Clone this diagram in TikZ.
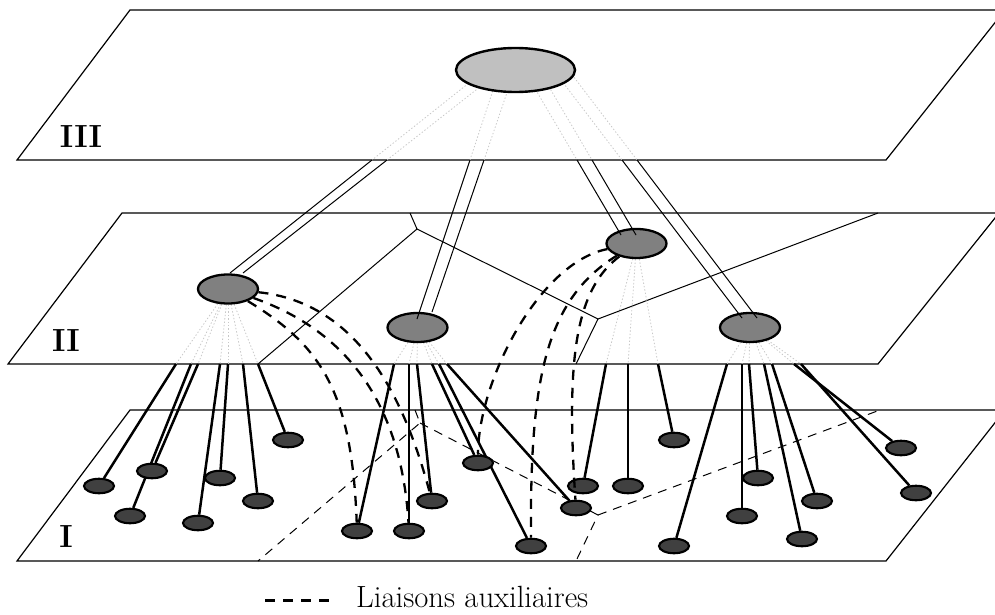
\documentclass[tikz,border=0pt]{standalone}
\usepackage{fontspec}
\usetikzlibrary{shapes.geometric,backgrounds}
\definecolor{topfill}{HTML}{C0C0C0}
\definecolor{midfill}{HTML}{808080}
\definecolor{lowfill}{HTML}{404040}
\definecolor{hid}{HTML}{C8C8C8}
\begin{document}
\begin{tikzpicture}[x=1pt,y=-1pt,
  plane/.style={line width=1.2pt, line join=miter},
  part/.style={line width=1pt},
  partI/.style={line width=1pt, dash pattern=on 9pt off 7pt},
  topn/.style={ellipse, draw, line width=2.4pt, fill=topfill, minimum width=119pt, minimum height=44pt, inner sep=0pt},
  midn/.style={ellipse, draw, line width=2.3pt, fill=midfill, minimum width=60pt, minimum height=29pt, inner sep=0pt},
  lown/.style={ellipse, draw, line width=2.1pt, fill=lowfill, minimum width=30pt, minimum height=14.5pt, inner sep=0pt},
  hidden/.style={hid, line width=0.8pt, dash pattern=on 1.4pt off 2pt},
  link/.style={line width=2.5pt},
  twin/.style={line width=1pt},
  aux/.style={line width=2.3pt, dash pattern=on 10pt off 8pt},
  lab/.style={font=\fontsize{32}{36}\selectfont\bfseries, inner sep=0pt},
]
\useasboundingbox (0,0) rectangle (995,615);
\clip (0,0) rectangle (995,615);

% ---- nodes ----
\node[topn] (T) at (515.5,70) {};
\node[midn] (A) at (228,289) {};
\node[midn] (B) at (417.5,327.5) {};
\node[midn] (C) at (636.5,243.5) {};
\node[midn] (D) at (750,327.5) {};

\node[lown] (n1) at (99,486) {};
\node[lown] (n2) at (152,471) {};
\node[lown] (n3) at (130,516) {};
\node[lown] (n4) at (220,478) {};
\node[lown] (n5) at (198,523) {};
\node[lown] (n6) at (258,501) {};
\node[lown] (n7) at (288,440) {};
\node[lown] (n8) at (357,531) {};
\node[lown] (n9) at (409,531) {};
\node[lown] (n10) at (432,501) {};
\node[lown] (n11) at (478,463) {};
\node[lown] (n12) at (531,546) {};
\node[lown] (n13) at (576,508) {};
\node[lown] (n14) at (583,486) {};
\node[lown] (n15) at (628,486) {};
\node[lown] (n16) at (674,440) {};
\node[lown] (n17) at (674,546) {};
\node[lown] (n18) at (742,516) {};
\node[lown] (n19) at (758,478) {};
\node[lown] (n20) at (802,539) {};
\node[lown] (n21) at (817,501) {};
\node[lown] (n22) at (901,448) {};
\node[lown] (n23) at (916,493) {};

% ---- points on the edge of plane II ----
\coordinate (a1) at (176,364);
\coordinate (a2) at (191,364);
\coordinate (a3) at (198,364);
\coordinate (a4) at (220,364);
\coordinate (a5) at (228,364);
\coordinate (a6) at (243,364);
\coordinate (a7) at (258,364);
\coordinate (b1) at (394,364);
\coordinate (b2) at (409,364);
\coordinate (b3) at (417,364);
\coordinate (b4) at (432,364);
\coordinate (b5) at (439,364);
\coordinate (b6) at (447,364);
\coordinate (c1) at (606,364);
\coordinate (c2) at (628,364);
\coordinate (c3) at (658,364);
\coordinate (d1) at (727,364);
\coordinate (d2) at (742,364);
\coordinate (d3) at (749,364);
\coordinate (d4) at (764,364);
\coordinate (d5) at (772,364);
\coordinate (d6) at (794,364);
\coordinate (d7) at (801,364);

% ---- twin links from plane III ----
\coordinate (uA1) at (479,75);  \coordinate (tA1) at (372,160); \coordinate (bA1) at (230,273);
\coordinate (uA2) at (495,75);  \coordinate (tA2) at (387,160); \coordinate (bA2) at (243,273);
\coordinate (uB1) at (498,75);  \coordinate (tB1) at (470,160); \coordinate (bB1) at (417,319);
\coordinate (uB2) at (513,75);  \coordinate (tB2) at (484,160); \coordinate (bB2) at (432,312);
\coordinate (uC1) at (527,75);  \coordinate (tC1) at (577,160); \coordinate (bC1) at (621,235);
\coordinate (uC2) at (542,75);  \coordinate (tC2) at (592,160); \coordinate (bC2) at (636,235);
\coordinate (uD1) at (555,72);  \coordinate (tD1) at (622,160); \coordinate (bD1) at (742,318);
\coordinate (uD2) at (570,72);  \coordinate (tD2) at (637,160); \coordinate (bD2) at (757,318);

\begin{scope}[on background layer]
  \clip (0,0) rectangle (995,615);
  % planes
  \draw[plane] (17,160) -- (886,160) -- (1005,10) -- (130,10) -- cycle;
  \draw[plane] (8,364) -- (878,364) -- (999,213) -- (122,213) -- cycle;
  \draw[plane] (17,561) -- (886,561) -- (1005,410) -- (130,410) -- cycle;
  % partition of plane II
  \draw[part] (410,213) -- (417,229) -- (258,364);
  \draw[part] (417,229) -- (598,319) -- (576,364);
  \draw[part] (598,319) -- (878,213);
  % partition of plane I
  \draw[partI] (415,410) -- (420,423) -- (258,561);
  \draw[partI] (420,423) -- (598,515) -- (576,561);
  \draw[partI] (598,515) -- (880,410);
  % hidden parts
  \foreach \u/\t in {uA1/tA1,uA2/tA2,uB1/tB1,uB2/tB2,uC1/tC1,uC2/tC2,uD1/tD1,uD2/tD2}
    \draw[hidden] (\u) -- (\t);
  \foreach \e in {a1,a2,a3,a4,a5,a6,a7} \draw[hidden] (A) -- (\e);
  \foreach \e in {b1,b2,b3,b4,b5,b6} \draw[hidden] (B) -- (\e);
  \foreach \e in {c1,c2,c3} \draw[hidden] (C) -- (\e);
  \foreach \e in {d1,d2,d3,d4,d5,d6,d7} \draw[hidden] (D) -- (\e);
  % links down to plane I
  \foreach \e/\n in {a1/n1,a2/n3,a3/n2,a4/n5,a5/n4,a6/n6,a7/n7,
                     b1/n8,b2/n9,b3/n10,b4/n11,b5/n12,b6/n13,
                     c1/n14,c2/n15,c3/n16,
                     d1/n17,d2/n18,d3/n19,d4/n20,d5/n21,d6/n22,d7/n23}
    \draw[link] (\e) -- (\n);
\end{scope}

% twin links
\foreach \t/\b in {tA1/bA1,tA2/bA2,tB1/bB1,tB2/bB2,tC1/bC1,tC2/bC2,tD1/bD1,tD2/bD2}
  \draw[twin] (\t) -- (\b);

% auxiliary links
\draw[aux] (A) .. controls (360,303) and (405,400) .. (n10);
\draw[aux] (A) .. controls (330,325) and (400,385) .. (n9);
\draw[aux] (A) .. controls (320,345) and (352,390) .. (n8);
\draw[aux] (C) .. controls (540,262) and (478,380) .. (n11);
\draw[aux] (C) .. controls (545,300) and (530,380) .. (n12);
\draw[aux] (C) .. controls (575,290) and (566,360) .. (n13);

% labels
\node[lab] (L3) at (81,136.5) {III};
\node[lab] (L2) at (66,341) {II};
\node[lab] (L1) at (66,536.5) {I};

% legend
\coordinate (lg1) at (265,600.5);
\coordinate (lg2) at (333,600.5);
\draw[aux] (lg1) -- (lg2);
\node[anchor=base west, inner sep=0pt, font=\fontsize{30.7}{36}\selectfont] (leg) at (356,607) {Liaisons auxiliaires};
\end{tikzpicture}
\end{document}
